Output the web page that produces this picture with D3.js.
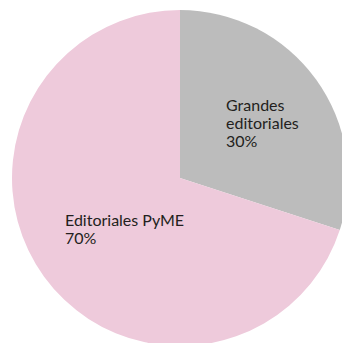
<!DOCTYPE html>
<html>
<head>
<meta charset="utf-8">
<script src="https://cdn.jsdelivr.net/npm/d3@7"></script>
<style>
  html, body { margin: 0; padding: 0; background: #fff; }
  svg { display: block; }
  text { font-family: Lato, "Open Sans", sans-serif; fill: #231f20; }
</style>
</head>
<body>
<div id="chart"></div>
<script>
// Market share of publishing houses
const categories = ["Grandes editoriales", "Editoriales PyME"];
const labelLines = [["Grandes", "editoriales"], ["Editoriales PyME"]];
const shares = [30, 70];
const colors = ["#bcbcbc", "#eecadb"];

const width = 342, height = 343;
const cx = 180, cy = 178, radius = 168;

const svg = d3.select("#chart").append("svg")
  .attr("width", width)
  .attr("height", height);

const g = svg.append("g").attr("transform", `translate(${cx},${cy})`);

const color = d3.scaleOrdinal().domain(categories).range(colors);

const pie = d3.pie().sort(null).value(d => d.value);
const arcs = pie(categories.map((c, i) => ({ name: c, value: shares[i], lines: labelLines[i] })));

const arc = d3.arc().innerRadius(0).outerRadius(radius);

g.selectAll("path.slice")
  .data(arcs)
  .join("path")
  .attr("class", "slice")
  .attr("d", arc)
  .attr("fill", d => color(d.data.name));

// Label anchors: left edge / first baseline of each text block, relative to the pie centre
const labelAnchor = [
  { x: 46, y: -67 },
  { x: -115, y: 48 }
];
const lineHeight = 18;

const labels = g.selectAll("text.label")
  .data(arcs)
  .join("text")
  .attr("class", "label")
  .attr("font-size", 16)
  .attr("x", (d, i) => labelAnchor[i].x)
  .attr("y", (d, i) => labelAnchor[i].y);

labels.each(function (d, i) {
  const t = d3.select(this);
  const lines = d.data.lines.concat([d3.format("d")(d.data.value) + "%"]);
  lines.forEach((ln, j) => {
    t.append("tspan")
      .attr("x", labelAnchor[i].x)
      .attr("dy", j === 0 ? 0 : lineHeight)
      .text(ln);
  });
});
</script>
</body>
</html>
